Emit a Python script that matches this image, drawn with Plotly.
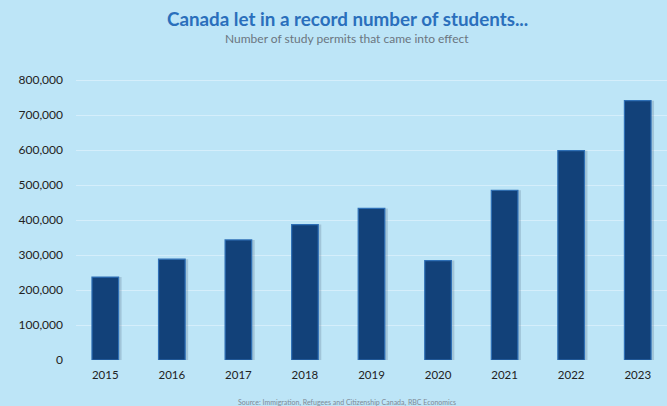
import plotly.graph_objects as go

# Study permits that came into effect, by year
years = ["2015", "2016", "2017", "2018", "2019", "2020", "2021", "2022", "2023"]
permits = [237000, 288000, 343000, 387000, 433000, 284000, 485000, 598000, 741000]

y_ticks = [0, 100000, 200000, 300000, 400000, 500000, 600000, 700000, 800000]
y_tick_text = ["0", "100,000", "200,000", "300,000", "400,000",
               "500,000", "600,000", "700,000", "800,000"]

BG = "#bde5f7"
GRID = "#d5eefb"
BAR = "#124179"
BAR_EDGE = "#2e6fb6"

fig = go.Figure()

# soft drop shadow behind each bar
fig.add_trace(go.Bar(
    x=years, y=permits, width=0.4, offset=-0.155,
    marker=dict(color="rgba(90,115,140,0.28)", line=dict(width=0)),
    hoverinfo="skip", showlegend=False,
))

fig.add_trace(go.Bar(
    x=years, y=permits, width=0.4,
    marker=dict(color=BAR, line=dict(color=BAR_EDGE, width=1.2)),
    showlegend=False,
))

fig.update_layout(
    width=667, height=406,
    paper_bgcolor=BG, plot_bgcolor=BG,
    margin=dict(l=76, r=0, t=73, b=46),
    barmode="overlay",
    font=dict(family="Lato, sans-serif", color="#222222", size=12),
    xaxis=dict(
        type="category", range=[-0.44, 8.44],
        showgrid=False, zeroline=False, showline=False,
        ticks="", ticklabelstandoff=6,
        tickfont=dict(size=11.5, color="#222222"),
    ),
    yaxis=dict(
        range=[0, 820000],
        tickvals=y_ticks, ticktext=y_tick_text,
        showgrid=True, gridcolor=GRID, gridwidth=1.3,
        zeroline=False, showline=False, ticks="",
        ticklabelstandoff=12,
        tickfont=dict(size=12, color="#222222"),
    ),
    annotations=[
        dict(text="<b>Canada let in a record number of students...</b>",
             xref="paper", yref="paper", x=(347 - 76) / 591, y=1.0,
             yshift=73 - 18, xanchor="center", yanchor="middle",
             showarrow=False,
             font=dict(size=18.8, color="#2a6fbc", family="Lato, sans-serif")),
        dict(text="Number of study permits that came into effect",
             xref="paper", yref="paper", x=(347 - 76) / 591, y=1.0,
             yshift=73 - 38, xanchor="center", yanchor="middle",
             showarrow=False,
             font=dict(size=12, color="#6b7580", family="Lato, sans-serif")),
        dict(text="Source: Immigration, Refugees and Citizenship Canada, RBC Economics",
             xref="paper", yref="paper", x=(347 - 76) / 591, y=0,
             yshift=-(402 - 360), xanchor="center", yanchor="middle",
             showarrow=False,
             font=dict(size=7, color="#7d8a96", family="Lato, sans-serif")),
    ],
)

fig.write_html("out.html")
